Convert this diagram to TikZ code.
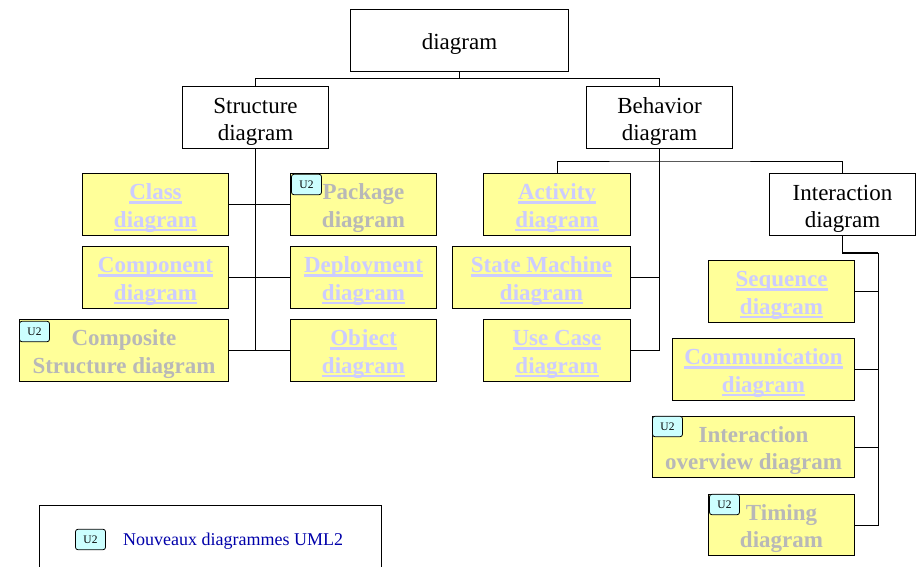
\documentclass[tikz,border=0pt]{standalone}
\usepackage{fontspec}
\setmainfont{Liberation Serif}
\definecolor{boxfill}{HTML}{FFFF99}
\definecolor{linkblue}{HTML}{CCCCFF}
\definecolor{greytext}{HTML}{B8B8B8}
\definecolor{badgefill}{HTML}{CCFFFF}
\definecolor{legendblue}{HTML}{0000AA}
\newlength{\lnkw}
\newcommand{\lnk}[1]{\settowidth{\lnkw}{#1}\leavevmode\rlap{\rule[-3.6pt]{\lnkw}{2.2pt}}#1}
% name, x1, y1, x2, y2, style, text
\newcommand{\bx}[7]{%
  \pgfmathsetmacro{\bw}{#4-#2}\pgfmathsetmacro{\bh}{#5-#3}%
  \node[#6,minimum width=\bw pt,minimum height=\bh pt] (#1) at ({(#2+#4)/2-0.5},{(#3+#5)/2-0.5}) {\rule{0pt}{23.5pt}#7};}
\newcommand{\badge}[3]{\node[badge] (#1) at (#2-0.5,#3-0.5) {U2};}
\tikzset{
  x=1pt,y=-1pt,
  plainbox/.style={draw=black,line width=0.9pt,fill=white,inner sep=0pt,align=center,
    font=\fontsize{23}{27.5}\selectfont,outer sep=0pt},
  linkbox/.style={plainbox,fill=boxfill,text=linkblue,font=\fontsize{23}{27.5}\selectfont\bfseries},
  greybox/.style={linkbox,text=greytext},
  badge/.style={draw=black,line width=0.8pt,rounded corners=2.5pt,fill=badgefill,minimum width=30pt,
    minimum height=20.5pt,inner sep=0pt,outer sep=0pt,font=\fontsize{11.5}{13}\selectfont,text=black},
  conn/.style={draw=black,line width=0.9pt},
  legendbox/.style={draw=black,line width=0.9pt,fill=white,inner sep=0pt,outer sep=0pt},
  legendtext/.style={inner sep=0pt,anchor=west,text=legendblue,font=\fontsize{18}{20}\selectfont}
}
\begin{document}
\begin{tikzpicture}
\useasboundingbox (0,0) rectangle (921,567);
\clip (0,0) rectangle (921,567);
\coordinate (busA) at (460,78);
\coordinate (busB) at (660,161);
\coordinate (busC) at (842.5,253);
\coordinate (trunkC) at (878,253);
% boxes
\bx{main}{351}{10}{569}{72}{plainbox}{diagram}
\bx{structure}{183}{87}{329}{149}{plainbox}{Structure\\diagram}
\bx{behavior}{587}{87}{733}{149}{plainbox}{Behavior\\diagram}
\bx{interaction}{770}{174}{916}{236}{plainbox}{Interaction\\diagram}
\bx{class}{83}{174}{229}{236}{linkbox}{\lnk{Class}\\\lnk{diagram}}
\bx{package}{291}{174}{437}{236}{greybox}{Package\\diagram}
\bx{component}{83}{247}{229}{309}{linkbox}{\lnk{Component}\\\lnk{diagram}}
\bx{deployment}{291}{247}{437}{309}{linkbox}{\lnk{Deployment}\\\lnk{diagram}}
\bx{composite}{20}{320}{229}{382}{greybox}{Composite\\Structure diagram}
\bx{object}{291}{320}{437}{382}{linkbox}{\lnk{Object}\\\lnk{diagram}}
\bx{activity}{484}{174}{631}{236}{linkbox}{\lnk{Activity}\\\lnk{diagram}}
\bx{statemachine}{453}{247}{631}{309}{linkbox}{\lnk{State Machine}\\\lnk{diagram}}
\bx{usecase}{484}{320}{631}{382}{linkbox}{\lnk{Use Case}\\\lnk{diagram}}
\bx{sequence}{709}{261}{855}{323}{linkbox}{\lnk{Sequence}\\\lnk{diagram}}
\bx{communication}{673}{339}{855}{401}{linkbox}{\lnk{Communication}\\\lnk{diagram}}
\bx{overview}{653}{417}{855}{478}{greybox}{Interaction\\overview diagram}
\bx{timing}{709}{495}{855}{556}{greybox}{Timing\\diagram}
% connectors
\draw[conn] (main.south) -- (main.south |- busA) -| (structure.north);
\draw[conn] (main.south |- busA) -| (behavior.north);
\draw[conn] (structure.south) -- (structure.south |- composite.east);
\draw[conn] (class.east) -- (package.west);
\draw[conn] (component.east) -- (deployment.west);
\draw[conn] (composite.east) -- (object.west);
\draw[conn] (behavior.south) -- (behavior.south |- usecase.east) -- (usecase.east);
\draw[conn] (statemachine.east) -- (statemachine.east -| behavior.south);
\draw[conn] (activity.north) |- (busB) -| (interaction.north);
\draw[conn,line width=1.4pt] (interaction.south) -- (busC) -- (trunkC);
\draw[conn] (trunkC) |- (timing.east);
\draw[conn] (sequence.east) -- (sequence.east -| trunkC);
\draw[conn] (communication.east) -- (communication.east -| trunkC);
\draw[conn] (overview.east) -- (overview.east -| trunkC);
% badges
\badge{bpackage}{307}{185}
\badge{bcomposite}{35}{332}
\badge{boverview}{668}{427}
\badge{btiming}{725}{505}
% legend
\bx{legend}{40}{506}{382}{580}{legendbox}{}
\badge{blegend}{91}{540}
\node[legendtext] (legendlabel) at (123,541) {Nouveaux diagrammes UML2};
\end{tikzpicture}
\end{document}
